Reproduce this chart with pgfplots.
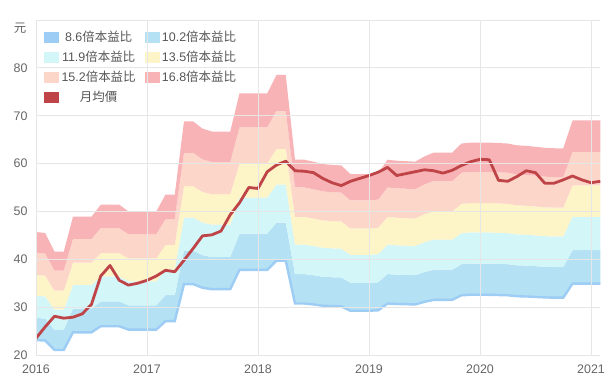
\documentclass[border=0pt]{standalone}
\usepackage{pgfplots}
\pgfplotsset{compat=1.18}
\usepackage{pgfplotstable}
\usepgfplotslibrary{fillbetween}
\usepackage{fontspec}
\setmainfont{Liberation Sans}
\newfontfamily\cjk{Noto Sans CJK TC}

\definecolor{c86}{HTML}{9DCDF5}
\definecolor{c102}{HTML}{B4E1F3}
\definecolor{c119}{HTML}{D3F6F9}
\definecolor{c135}{HTML}{FDF4C8}
\definecolor{c152}{HTML}{FDD6CA}
\definecolor{c168}{HTML}{F8B3B7}
\definecolor{cprice}{HTML}{BF4447}
\definecolor{tickgray}{HTML}{666666}
\definecolor{leggray}{HTML}{555555}
\definecolor{gridgray}{HTML}{E6E6E6}

\pgfplotstableread{
m b86 b102 b119 b135 b152 b168 price
0 23.12 27.74 32.37 36.72 41.34 45.70 23.5
1 23.02 27.62 32.23 36.56 41.16 45.49 25.9
2 21.05 25.26 29.46 33.43 37.64 41.60 28.1
3 21.05 25.26 29.46 33.43 37.64 41.60 27.7
4 24.74 29.69 34.64 39.30 44.25 48.90 27.9
5 24.74 29.69 34.64 39.30 44.25 48.90 28.6
6 24.74 29.69 34.64 39.30 44.25 48.90 30.6
7 26.01 31.21 36.41 41.31 46.51 51.41 36.5
8 26.01 31.21 36.41 41.31 46.51 51.41 38.7
9 26.01 31.21 36.41 41.31 46.51 51.41 35.6
10 25.30 30.36 35.41 40.18 45.24 50.00 34.6
11 25.30 30.36 35.41 40.18 45.24 50.00 35.0
12 25.30 30.36 35.41 40.18 45.24 50.00 35.6
13 25.30 30.36 35.41 40.18 45.24 50.00 36.5
14 27.07 32.49 37.90 43.00 48.41 53.51 37.7
15 27.07 32.49 37.90 43.00 48.41 53.51 37.4
16 34.81 41.77 48.73 55.28 62.24 68.80 39.8
17 34.81 41.77 48.73 55.28 62.24 68.80 42.3
18 34.05 40.86 47.67 54.08 60.89 67.30 44.9
19 33.75 40.49 47.24 53.60 60.34 66.70 45.1
20 33.75 40.49 47.24 53.60 60.34 66.70 45.9
21 33.75 40.49 47.24 53.60 60.34 66.70 49.3
22 37.79 45.35 52.91 60.02 67.58 74.69 51.8
23 37.79 45.35 52.91 60.02 67.58 74.69 55.0
24 37.79 45.35 52.91 60.02 67.58 74.69 54.8
25 37.79 45.35 52.91 60.02 67.58 74.69 58.3
26 39.72 47.66 55.61 63.09 71.03 78.51 59.7
27 39.72 47.66 55.61 63.09 71.03 78.51 60.5
28 30.76 36.91 43.07 48.86 55.01 60.80 58.5
29 30.76 36.91 43.07 48.86 55.01 60.80 58.4
30 30.56 36.67 42.78 48.53 54.64 60.40 58.1
31 30.30 36.36 42.42 48.13 54.19 59.89 56.9
32 30.21 36.25 42.29 47.98 54.02 59.71 56.0
33 30.16 36.19 42.22 47.90 53.93 59.61 55.4
34 29.24 35.09 40.94 46.44 52.29 57.79 56.3
35 29.24 35.09 40.94 46.44 52.29 57.79 56.9
36 29.24 35.09 40.94 46.44 52.29 57.79 57.5
37 29.34 35.21 41.08 46.60 52.47 57.99 58.2
38 30.76 36.91 43.07 48.86 55.01 60.80 59.2
39 30.66 36.79 42.92 48.69 54.83 60.60 57.5
40 30.61 36.73 42.85 48.61 54.74 60.50 57.9
41 30.56 36.67 42.78 48.53 54.64 60.40 58.3
42 31.12 37.34 43.57 49.42 55.65 61.50 58.7
43 31.52 37.82 44.13 50.06 56.36 62.29 58.5
44 31.52 37.82 44.13 50.06 56.36 62.29 58.0
45 31.52 37.82 44.13 50.06 56.36 62.29 58.6
46 32.48 38.97 45.47 51.58 58.08 64.19 59.6
47 32.58 39.10 45.61 51.75 58.26 64.39 60.4
48 32.58 39.10 45.61 51.75 58.26 64.39 60.9
49 32.58 39.10 45.61 51.75 58.26 64.39 60.8
50 32.53 39.04 45.54 51.66 58.17 64.29 56.5
51 32.48 38.97 45.47 51.58 58.08 64.19 56.3
52 32.28 38.74 45.20 51.27 57.73 63.81 57.3
53 32.23 38.68 45.12 51.19 57.64 63.71 58.5
54 32.13 38.56 44.98 51.03 57.46 63.50 58.1
55 32.03 38.43 44.84 50.87 57.27 63.30 55.9
56 31.98 38.37 44.77 50.79 57.18 63.20 55.9
57 31.98 38.37 44.77 50.79 57.18 63.20 56.6
58 34.91 41.89 48.87 55.44 62.43 69.00 57.4
59 34.91 41.89 48.87 55.44 62.43 69.00 56.6
60 34.91 41.89 48.87 55.44 62.43 69.00 56.0
61 34.91 41.89 48.87 55.44 62.43 69.00 56.3
}\data

\begin{document}
\begin{tikzpicture}
\begin{axis}[
  scale only axis, width=564.25bp, height=335bp,
  xmin=0, xmax=61, ymin=20, ymax=90,
  clip mode=individual,
  xtick={0,12,24,36,48,60},
  xticklabels={2016,2017,2018,2019,2020,2021},
  ytick={20,30,40,50,60,70,80,90},
  yticklabels={20,30,40,50,60,70,80,{}},
  grid=major, major grid style={draw=gridgray, line width=0.8bp},
  axis line style={draw=none}, major tick length=0pt,
  tick label style={font=\fontsize{12.5}{14}\selectfont, text=tickgray},
  xticklabel style={yshift=-6bp},
  yticklabel style={xshift=-5bp},
  /pgf/number format/assume math mode=true,
  axis on top,
  legend columns=2,
  legend style={at={(rel axis cs:0,1)}, anchor=north west,
    xshift=8bp, yshift=-11bp, draw=none, fill=none, inner sep=0pt,
    font=\fontsize{12.5}{14}\selectfont, text=leggray,
    row sep=5.5bp,
    nodes={inner sep=1bp, text width=78bp, align=center, text height=9.5bp, text depth=3bp},
    /tikz/every even column/.append style={column sep=6bp}},
]
\addplot[draw=none, name path=A, forget plot] table[x=m,y=b86]{\data};
\addplot[draw=none, name path=B, forget plot] table[x=m,y=b102]{\data};
\addplot[draw=none, name path=C, forget plot] table[x=m,y=b119]{\data};
\addplot[draw=none, name path=D, forget plot] table[x=m,y=b135]{\data};
\addplot[draw=none, name path=E, forget plot] table[x=m,y=b152]{\data};
\addplot[draw=none, name path=F, forget plot] table[x=m,y=b168]{\data};
\addplot[fill=c102, draw=none, forget plot] fill between[of=A and B];
\addplot[fill=c119, draw=none, forget plot] fill between[of=B and C];
\addplot[fill=c135, draw=none, forget plot] fill between[of=C and D];
\addplot[fill=c152, draw=none, forget plot] fill between[of=D and E];
\addplot[fill=c168, draw=none, forget plot] fill between[of=E and F];
\addplot[c86, line width=2.4bp, forget plot] table[x=m,y=b86]{\data};
\addplot[cprice, line width=2.8bp, line join=round, forget plot] table[x=m,y=price]{\data};

\addlegendimage{legend image code/.code={\fill[c86] (0bp,-4bp) rectangle (14bp,6bp);}}
\addlegendentry{8.6{\cjk 倍本益比}}
\addlegendimage{legend image code/.code={\fill[c102] (0bp,-4bp) rectangle (14bp,6bp);}}
\addlegendentry{10.2{\cjk 倍本益比}}
\addlegendimage{legend image code/.code={\fill[c119] (0bp,-4bp) rectangle (14bp,6bp);}}
\addlegendentry{11.9{\cjk 倍本益比}}
\addlegendimage{legend image code/.code={\fill[c135] (0bp,-4bp) rectangle (14bp,6bp);}}
\addlegendentry{13.5{\cjk 倍本益比}}
\addlegendimage{legend image code/.code={\fill[c152] (0bp,-4bp) rectangle (14bp,6bp);}}
\addlegendentry{15.2{\cjk 倍本益比}}
\addlegendimage{legend image code/.code={\fill[c168] (0bp,-4bp) rectangle (14bp,6bp);}}
\addlegendentry{16.8{\cjk 倍本益比}}
\addlegendimage{legend image code/.code={\fill[cprice] (0bp,-4bp) rectangle (14bp,6bp);}}
\addlegendentry{{\cjk 月均價}}

\node[font=\cjk\fontsize{12.5}{14}\selectfont, text=tickgray] at (rel axis cs:0,1) [xshift=-16bp, yshift=-8bp] {元};
\end{axis}
\pgfresetboundingbox
\useasboundingbox (-36bp,-29bp) rectangle (575bp,355bp);
\end{tikzpicture}
\end{document}
